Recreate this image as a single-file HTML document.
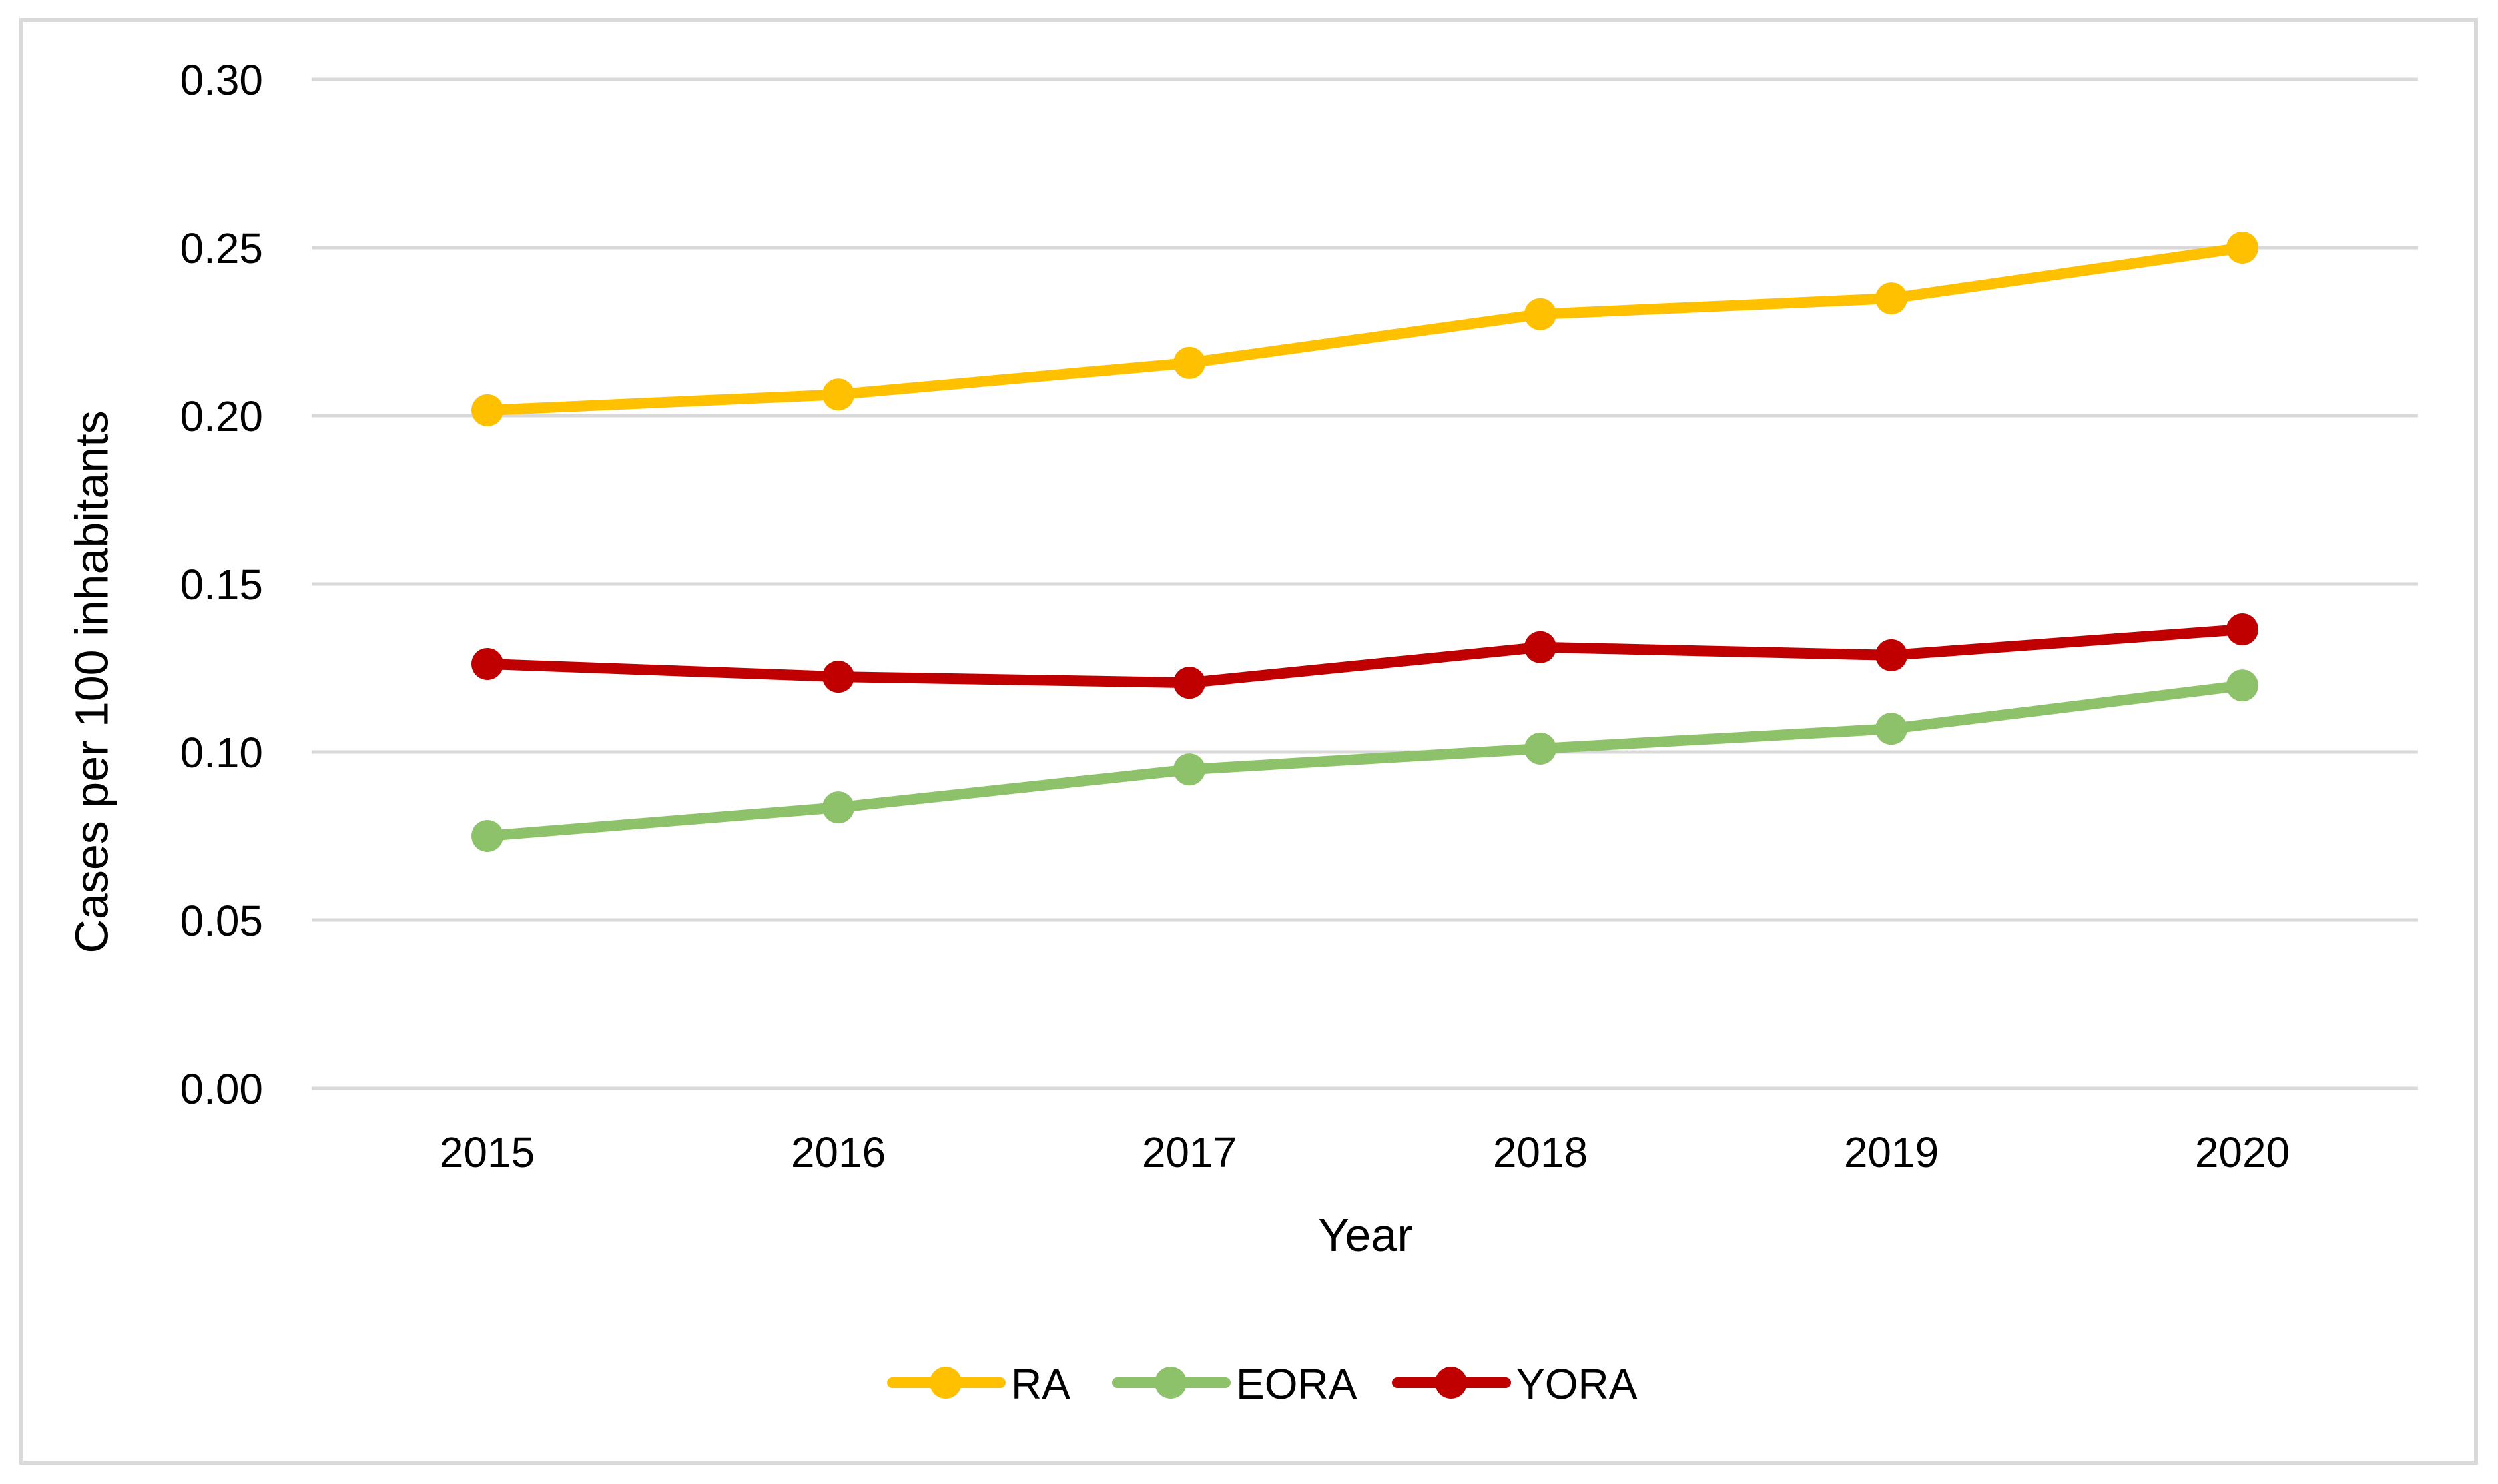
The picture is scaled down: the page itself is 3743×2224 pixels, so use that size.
<!DOCTYPE html>
<html><head><meta charset="utf-8"><style>
html,body{margin:0;padding:0;background:#fff;}
svg{display:block;font-family:"Liberation Sans",sans-serif;}
</style></head><body>
<svg id="chart" width="3743" height="2224" viewBox="0 0 3743 2224">
<rect x="32" y="30" width="3678" height="2162" fill="#fff" stroke="#d9d9d9" stroke-width="6"/>
<g id="grid"></g>
<g id="yticks"></g>
<g id="xticks"></g>
<g id="series"></g>
<text x="143" y="1022" transform="rotate(-90 143 1022)" text-anchor="middle" dominant-baseline="middle" font-size="70" fill="#000">Cases per 100 inhabitants</text>
<text x="2046" y="1875" text-anchor="middle" font-size="70" fill="#000">Year</text>
<g id="legend"></g>
</svg>
<script>
const categories = ["2015","2016","2017","2018","2019","2020"];
const yTicks = [0, 0.05, 0.10, 0.15, 0.20, 0.25, 0.30];
const yTickLabels = ["0.00","0.05","0.10","0.15","0.20","0.25","0.30"];
const seriesNames = ["RA","EORA","YORA"];
const seriesColors = ["#ffc000","#8dc26a","#c00000"];
const raValues = [0.2016, 0.2063, 0.2157, 0.2302, 0.2349, 0.2500];
const eoraValues = [0.0750, 0.0835, 0.0948, 0.1010, 0.1069, 0.1198];
const yoraValues = [0.1262, 0.1224, 0.1206, 0.1312, 0.1288, 0.1365];
const seriesValues = [raValues, eoraValues, yoraValues];

const NS = "http://www.w3.org/2000/svg";
const plotL = 467, plotR = 3623, plotTop = 119, plotBot = 1631, yMax = 0.30;
function xPos(i){ return plotL + (plotR-plotL)/categories.length*(i+0.5); }
function yPos(v){ return plotBot - (v/yMax)*(plotBot-plotTop); }
function mk(tag, attrs, parent){ const e=document.createElementNS(NS,tag); for(const k in attrs) e.setAttribute(k,attrs[k]); parent.appendChild(e); return e; }

const grid=document.getElementById('grid'), yt=document.getElementById('yticks'), xt=document.getElementById('xticks'), sg=document.getElementById('series'), lg=document.getElementById('legend');
yTicks.forEach((v,i)=>{
  const l=mk('line',{x1:plotL,x2:plotR,y1:yPos(v),y2:yPos(v),stroke:'#d9d9d9','stroke-width':5},grid);
  
  
  const t=mk('text',{x:394,y:yPos(v)+23,'text-anchor':'end','font-size':64,fill:'#000'},yt);
  t.textContent=yTickLabels[i];
  
  
});
categories.forEach((c,i)=>{
  const t=mk('text',{x:xPos(i),y:1749,'text-anchor':'middle','font-size':64,fill:'#000'},xt);
  t.textContent=c;
  
  
});
seriesValues.forEach((vals,s)=>{
  const pts=vals.map((v,i)=>xPos(i)+','+yPos(v)).join(' ');
  const pl=mk('polyline',{points:pts,fill:'none',stroke:seriesColors[s],'stroke-width':16,'stroke-linejoin':'round','stroke-linecap':'round'},sg);
  
  
  vals.forEach((v,i)=>{
    const c=mk('circle',{cx:xPos(i),cy:yPos(v),r:24,fill:seriesColors[s]},sg);
    
    
  });
});
const legX=[1329,1666,2086], legY=2072;
seriesNames.forEach((n,s)=>{
  const l=mk('line',{x1:legX[s]+8,x2:legX[s]+170,y1:legY,y2:legY,stroke:seriesColors[s],'stroke-width':16,'stroke-linecap':'round'},lg);
  
  
  const c=mk('circle',{cx:legX[s]+88,cy:legY,r:24,fill:seriesColors[s]},lg);
  
  
  const t=mk('text',{x:legX[s]+186,y:legY+24,'font-size':64,fill:'#000'},lg);
  t.textContent=n;
  
  
});
</script>
</body></html>
